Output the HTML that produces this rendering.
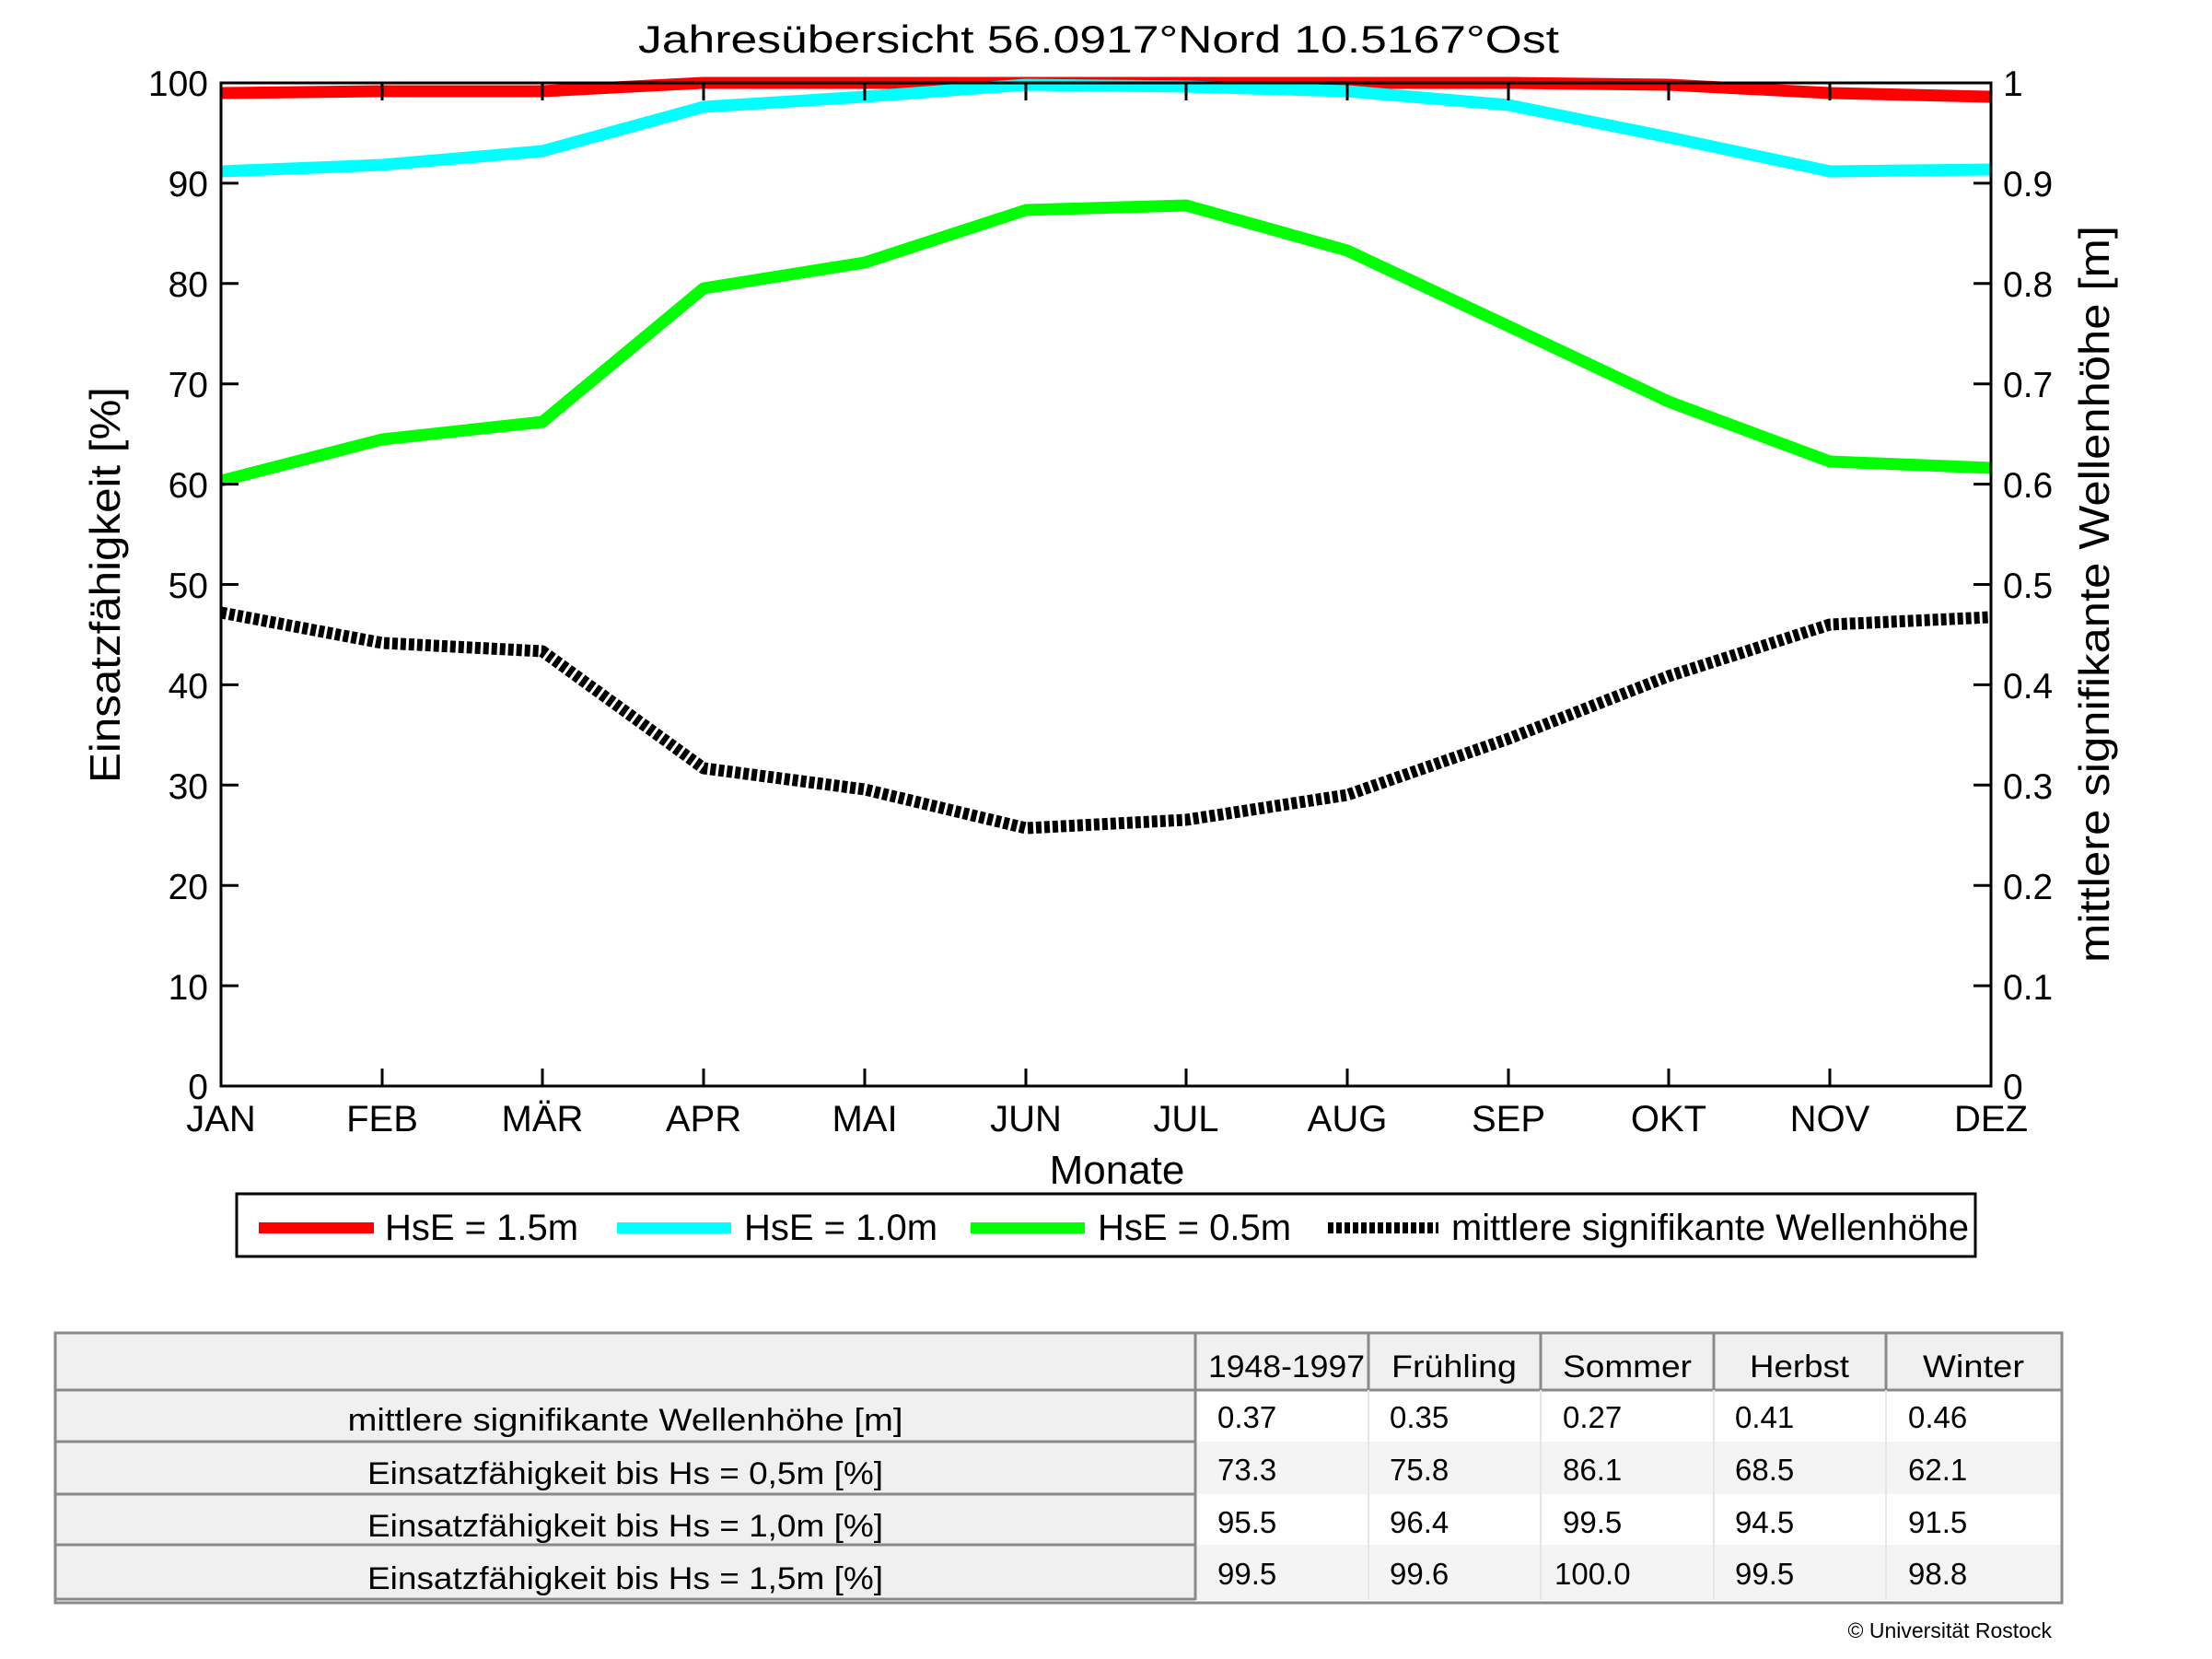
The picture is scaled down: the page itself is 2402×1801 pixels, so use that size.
<!DOCTYPE html>
<html><head><meta charset="utf-8"><style>
html,body{margin:0;padding:0;background:#fff;}
svg{display:block;}
text{font-family:"Liberation Sans",Arial,sans-serif;fill:#000;}
.t{font-family:"DejaVu Sans Condensed","Liberation Sans Narrow","Liberation Sans",sans-serif;}
</style></head><body>
<svg width="2402" height="1801" viewBox="0 0 2402 1801" xmlns="http://www.w3.org/2000/svg">
<rect width="2402" height="1801" fill="#fff"/>
<text x="1193" y="57" font-size="42" text-anchor="middle" textLength="1000" lengthAdjust="spacingAndGlyphs">Jahresübersicht  56.0917°Nord  10.5167°Ost</text>

<!-- series -->
<g fill="none" stroke-linejoin="round">
<polyline stroke="#ff0000" stroke-width="13" points="240,101 415,99 589,99 764,90 939,90 1114,90 1288,90 1463,90 1638,90 1812,92 1987,101 2162,105"/>
<polyline stroke="#00ffff" stroke-width="13" points="240,186 415,179 589,164 764,116 939,105 1114,92 1288,94 1463,99 1638,114 1812,149 1987,186 2162,184"/>
<polyline stroke="#00ff00" stroke-width="13" points="240,522 415,477 589,458 764,313 939,285 1114,228 1288,223 1463,272 1638,354 1812,436 1987,501 2162,508"/>
<polyline stroke="#000" stroke-width="13" stroke-dasharray="6,3" points="240,665 415,698 589,707 764,834 939,857 1114,899 1288,890 1463,863 1638,802 1812,734 1987,678 2162,670"/>
</g>

<!-- axes box -->
<rect x="240" y="90" width="1922" height="1089" fill="none" stroke="#000" stroke-width="3"/>
<g stroke="#000" stroke-width="3">
<line x1="240" y1="198.9" x2="259" y2="198.9"/><line x1="240" y1="307.8" x2="259" y2="307.8"/><line x1="240" y1="416.7" x2="259" y2="416.7"/><line x1="240" y1="525.6" x2="259" y2="525.6"/><line x1="240" y1="634.5" x2="259" y2="634.5"/><line x1="240" y1="743.4" x2="259" y2="743.4"/><line x1="240" y1="852.3" x2="259" y2="852.3"/><line x1="240" y1="961.2" x2="259" y2="961.2"/><line x1="240" y1="1070.1" x2="259" y2="1070.1"/>
<line x1="2162" y1="198.9" x2="2143" y2="198.9"/><line x1="2162" y1="307.8" x2="2143" y2="307.8"/><line x1="2162" y1="416.7" x2="2143" y2="416.7"/><line x1="2162" y1="525.6" x2="2143" y2="525.6"/><line x1="2162" y1="634.5" x2="2143" y2="634.5"/><line x1="2162" y1="743.4" x2="2143" y2="743.4"/><line x1="2162" y1="852.3" x2="2143" y2="852.3"/><line x1="2162" y1="961.2" x2="2143" y2="961.2"/><line x1="2162" y1="1070.1" x2="2143" y2="1070.1"/>
<line x1="415" y1="1179" x2="415" y2="1160"/><line x1="589" y1="1179" x2="589" y2="1160"/><line x1="764" y1="1179" x2="764" y2="1160"/><line x1="939" y1="1179" x2="939" y2="1160"/><line x1="1114" y1="1179" x2="1114" y2="1160"/><line x1="1288" y1="1179" x2="1288" y2="1160"/><line x1="1463" y1="1179" x2="1463" y2="1160"/><line x1="1638" y1="1179" x2="1638" y2="1160"/><line x1="1812" y1="1179" x2="1812" y2="1160"/><line x1="1987" y1="1179" x2="1987" y2="1160"/>
<line x1="415" y1="90" x2="415" y2="109"/><line x1="589" y1="90" x2="589" y2="109"/><line x1="764" y1="90" x2="764" y2="109"/><line x1="939" y1="90" x2="939" y2="109"/><line x1="1114" y1="90" x2="1114" y2="109"/><line x1="1288" y1="90" x2="1288" y2="109"/><line x1="1463" y1="90" x2="1463" y2="109"/><line x1="1638" y1="90" x2="1638" y2="109"/><line x1="1812" y1="90" x2="1812" y2="109"/><line x1="1987" y1="90" x2="1987" y2="109"/>
</g>

<g font-size="39" text-anchor="end">
<text x="226" y="104">100</text><text x="226" y="213">90</text><text x="226" y="322">80</text><text x="226" y="431">70</text><text x="226" y="540">60</text><text x="226" y="649">50</text><text x="226" y="758">40</text><text x="226" y="867">30</text><text x="226" y="976">20</text><text x="226" y="1085">10</text><text x="226" y="1193">0</text>
</g>
<g font-size="39">
<text x="2175" y="104">1</text><text x="2175" y="213">0.9</text><text x="2175" y="322">0.8</text><text x="2175" y="431">0.7</text><text x="2175" y="540">0.6</text><text x="2175" y="649">0.5</text><text x="2175" y="758">0.4</text><text x="2175" y="867">0.3</text><text x="2175" y="976">0.2</text><text x="2175" y="1085">0.1</text><text x="2175" y="1193">0</text>
</g>
<g font-size="40" text-anchor="middle">
<text x="240" y="1228">JAN</text><text x="415" y="1228">FEB</text><text x="589" y="1228">MÄR</text><text x="764" y="1228">APR</text><text x="939" y="1228">MAI</text><text x="1114" y="1228">JUN</text><text x="1288" y="1228">JUL</text><text x="1463" y="1228">AUG</text><text x="1638" y="1228">SEP</text><text x="1812" y="1228">OKT</text><text x="1987" y="1228">NOV</text><text x="2162" y="1228">DEZ</text>
</g>
<text x="1213" y="1285" font-size="44" text-anchor="middle">Monate</text>
<text transform="translate(130,635) rotate(-90)" font-size="46" text-anchor="middle" textLength="430" lengthAdjust="spacingAndGlyphs">Einsatzfähigkeit [%]</text>
<text transform="translate(2290,645) rotate(-90)" font-size="46" text-anchor="middle" textLength="800" lengthAdjust="spacingAndGlyphs">mittlere signifikante Wellenhöhe [m]</text>

<!-- legend -->
<rect x="257" y="1296" width="1888" height="68" fill="#fff" stroke="#000" stroke-width="3"/>
<line x1="281" y1="1333" x2="406" y2="1333" stroke="#ff0000" stroke-width="12"/>
<line x1="670" y1="1333" x2="794" y2="1333" stroke="#00ffff" stroke-width="12"/>
<line x1="1054" y1="1333" x2="1178" y2="1333" stroke="#00ff00" stroke-width="12"/>
<line x1="1442" y1="1333" x2="1562" y2="1333" stroke="#000" stroke-width="12" stroke-dasharray="6,3"/>
<g font-size="40">
<text x="418" y="1346">HsE = 1.5m</text>
<text x="808" y="1346">HsE = 1.0m</text>
<text x="1192" y="1346">HsE = 0.5m</text>
<text x="1576" y="1346" textLength="562" lengthAdjust="spacingAndGlyphs">mittlere signifikante Wellenhöhe</text>
</g>

<!-- table -->
<rect x="60" y="1447" width="2179" height="62" fill="#f0f0f0"/>
<rect x="60" y="1509" width="1238" height="228" fill="#f0f0f0"/>
<rect x="1298" y="1509" width="941" height="56" fill="#fff"/>
<rect x="1298" y="1565" width="941" height="57" fill="#f4f4f4"/>
<rect x="1298" y="1622" width="941" height="55" fill="#fff"/>
<rect x="1298" y="1677" width="941" height="60" fill="#f4f4f4"/>
<g stroke="#8a8a8a" stroke-width="3" fill="none">
<rect x="60" y="1447" width="2179" height="293"/>
<line x1="60" y1="1509" x2="2239" y2="1509"/>
<line x1="60" y1="1565" x2="1298" y2="1565"/>
<line x1="60" y1="1622" x2="1298" y2="1622"/>
<line x1="60" y1="1677" x2="1298" y2="1677"/>
<line x1="60" y1="1736" x2="1298" y2="1736"/>
<line x1="1298" y1="1447" x2="1298" y2="1737"/>
<line x1="1486" y1="1447" x2="1486" y2="1509"/>
<line x1="1673" y1="1447" x2="1673" y2="1509"/>
<line x1="1861" y1="1447" x2="1861" y2="1509"/>
<line x1="2048" y1="1447" x2="2048" y2="1509"/>
</g>
<g stroke="#e6e6e6" stroke-width="2">
<line x1="1486" y1="1509" x2="1486" y2="1737"/><line x1="1673" y1="1509" x2="1673" y2="1737"/><line x1="1861" y1="1509" x2="1861" y2="1737"/><line x1="2048" y1="1509" x2="2048" y2="1737"/>
</g>
<g class="t" font-size="34" fill="#222">
<text x="1312" y="1495" textLength="170" lengthAdjust="spacingAndGlyphs">1948-1997</text>
<text x="1579" y="1495" text-anchor="middle" textLength="136" lengthAdjust="spacingAndGlyphs">Frühling</text>
<text x="1767" y="1495" text-anchor="middle" textLength="140" lengthAdjust="spacingAndGlyphs">Sommer</text>
<text x="1954" y="1495" text-anchor="middle" textLength="108" lengthAdjust="spacingAndGlyphs">Herbst</text>
<text x="2143" y="1495" text-anchor="middle" textLength="110" lengthAdjust="spacingAndGlyphs">Winter</text>
</g>
<g class="t" font-size="34" text-anchor="middle">
<text x="679" y="1553" textLength="603" lengthAdjust="spacingAndGlyphs">mittlere signifikante Wellenhöhe [m]</text>
<text x="679" y="1611" textLength="560" lengthAdjust="spacingAndGlyphs">Einsatzfähigkeit bis Hs = 0,5m [%]</text>
<text x="679" y="1668" textLength="560" lengthAdjust="spacingAndGlyphs">Einsatzfähigkeit bis Hs = 1,0m [%]</text>
<text x="679" y="1725" textLength="560" lengthAdjust="spacingAndGlyphs">Einsatzfähigkeit bis Hs = 1,5m [%]</text>
</g>
<g class="t" font-size="33" fill="#333">
<text x="1322" y="1550">0.37</text><text x="1509" y="1550">0.35</text><text x="1697" y="1550">0.27</text><text x="1884" y="1550">0.41</text><text x="2072" y="1550">0.46</text>
<text x="1322" y="1607">73.3</text><text x="1509" y="1607">75.8</text><text x="1697" y="1607">86.1</text><text x="1884" y="1607">68.5</text><text x="2072" y="1607">62.1</text>
<text x="1322" y="1664">95.5</text><text x="1509" y="1664">96.4</text><text x="1697" y="1664">99.5</text><text x="1884" y="1664">94.5</text><text x="2072" y="1664">91.5</text>
<text x="1322" y="1720">99.5</text><text x="1509" y="1720">99.6</text><text x="1688" y="1720">100.0</text><text x="1884" y="1720">99.5</text><text x="2072" y="1720">98.8</text>
</g>
<text x="2228" y="1778" font-size="23" text-anchor="end">© Universität Rostock</text>
</svg>
</body></html>
